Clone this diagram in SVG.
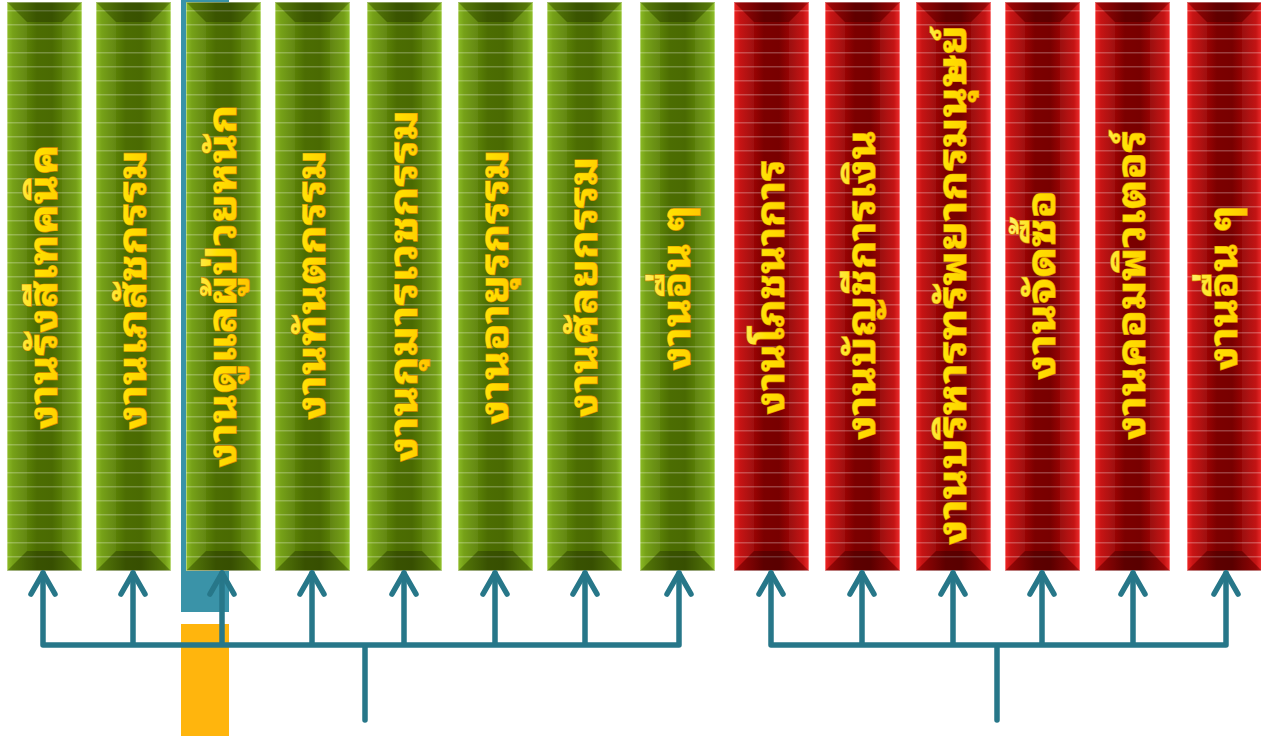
<svg xmlns="http://www.w3.org/2000/svg" width="1261" height="744" viewBox="0 0 1261 744">
  <style>
    .lbl { font-family: "Noto Sans Thai Looped", "Noto Serif Thai", "Loma", "Garuda", "Norasi", "Noto Sans Thai", "Noto Sans", sans-serif; font-weight: bold; font-size: 40px; fill: url(#gold); stroke: #d98a00; stroke-width: 1.2; paint-order: stroke; text-anchor: middle; }
    .wire { fill: none; stroke: #277789; stroke-width: 5.5; stroke-linecap: round; stroke-linejoin: round; }
  </style>
  <defs>
    <linearGradient id="gold" x1="0" y1="0" x2="0" y2="1">
      <stop offset="0" stop-color="#fff27a"/>
      <stop offset="0.5" stop-color="#ffe000"/>
      <stop offset="1" stop-color="#ffc400"/>
    </linearGradient>
    <linearGradient id="greenBody" x1="0" y1="0" x2="1" y2="0">
      <stop offset="0" stop-color="#86b81a"/>
      <stop offset="0.08" stop-color="#6f9c0c"/>
      <stop offset="0.4" stop-color="#4c6d02"/>
      <stop offset="0.6" stop-color="#4a6a02"/>
      <stop offset="0.92" stop-color="#6e9a0c"/>
      <stop offset="1" stop-color="#8cc020"/>
    </linearGradient>
    <linearGradient id="redBody" x1="0" y1="0" x2="1" y2="0">
      <stop offset="0" stop-color="#f01818"/>
      <stop offset="0.08" stop-color="#c40808"/>
      <stop offset="0.4" stop-color="#7c0000"/>
      <stop offset="0.6" stop-color="#780000"/>
      <stop offset="0.92" stop-color="#c00808"/>
      <stop offset="1" stop-color="#f02020"/>
    </linearGradient>
    <pattern id="stripes" width="75" height="14" patternUnits="userSpaceOnUse" y="2">
      <rect x="0" y="6" width="75" height="1.5" fill="#ffffff" fill-opacity="0.25"/>
    </pattern>
    <!-- bevelled panel, 75 x 569 -->
    <symbol id="barShape" viewBox="0 0 75 569" overflow="visible">
      <rect x="0" y="0" width="75" height="569" fill="url(#stripes)"/>
      <path d="M0 0 H75 L55 20 H20 Z" fill="#000" fill-opacity="0.22"/>
      <path d="M0 569 H75 L55 549 H20 Z" fill="#000" fill-opacity="0.25"/>
      <path d="M0 0 L20 20 V549 L0 569 Z" fill="#fff" fill-opacity="0.05"/>
      <path d="M75 0 L55 20 V549 L75 569 Z" fill="#fff" fill-opacity="0.05"/>
      <rect x="0.5" y="0.5" width="74" height="568" fill="none" stroke="#fff" stroke-opacity="0.35" stroke-width="1"/>
    </symbol>
    <symbol id="greenBar" viewBox="0 0 75 569" overflow="visible">
      <rect width="75" height="569" fill="url(#greenBody)"/>
      <use href="#barShape" width="75" height="569"/>
    </symbol>
    <symbol id="redBar" viewBox="0 0 75 569" overflow="visible">
      <rect width="75" height="569" fill="url(#redBody)"/>
      <use href="#barShape" width="75" height="569"/>
    </symbol>
    <path id="chev" d="M-12 21 L0 0 L12 21" class="wire"/>
  </defs>

  <rect width="1261" height="744" fill="#ffffff"/>

  <!-- highlight blocks -->
  <rect x="181" y="0" width="48" height="612" fill="#3a93a8"/>
  <rect x="181" y="624" width="48" height="112" fill="#ffb50d"/>

  <!-- clinical units -->
  <g id="n1"><use href="#greenBar" x="7" y="2" width="75" height="569"/>
    <text class="lbl" transform="translate(57,287) rotate(-90)" textLength="285" lengthAdjust="spacingAndGlyphs">งานรังสีเทคนิค</text></g>
  <g id="n2"><use href="#greenBar" x="96" y="2" width="75" height="569"/>
    <text class="lbl" transform="translate(146,290) rotate(-90)" textLength="280" lengthAdjust="spacingAndGlyphs">งานเภสัชกรรม</text></g>
  <g id="n3"><use href="#greenBar" x="186" y="2" width="75" height="569"/>
    <text class="lbl" transform="translate(236,286) rotate(-90)" textLength="363" lengthAdjust="spacingAndGlyphs">งานดูแลผู้ป่วยหนัก</text></g>
  <g id="n4"><use href="#greenBar" x="275" y="2" width="75" height="569"/>
    <text class="lbl" transform="translate(325,285) rotate(-90)" textLength="270" lengthAdjust="spacingAndGlyphs">งานทันตกรรม</text></g>
  <g id="n5"><use href="#greenBar" x="367" y="2" width="75" height="569"/>
    <text class="lbl" transform="translate(417,286) rotate(-90)" textLength="352" lengthAdjust="spacingAndGlyphs">งานกุมารเวชกรรม</text></g>
  <g id="n6"><use href="#greenBar" x="458" y="2" width="75" height="569"/>
    <text class="lbl" transform="translate(508,287) rotate(-90)" textLength="275" lengthAdjust="spacingAndGlyphs">งานอายุรกรรม</text></g>
  <g id="n7"><use href="#greenBar" x="547" y="2" width="75" height="569"/>
    <text class="lbl" transform="translate(597,287) rotate(-90)" textLength="261" lengthAdjust="spacingAndGlyphs">งานศัลยกรรม</text></g>
  <g id="n8"><use href="#greenBar" x="640" y="2" width="75" height="569"/>
    <text class="lbl" transform="translate(690,288) rotate(-90)" textLength="165" lengthAdjust="spacingAndGlyphs">งานอื่น ๆ</text></g>

  <!-- support units -->
  <g id="n9"><use href="#redBar" x="734" y="2" width="75" height="569"/>
    <text class="lbl" transform="translate(784,287) rotate(-90)" textLength="255" lengthAdjust="spacingAndGlyphs">งานโภชนาการ</text></g>
  <g id="n10"><use href="#redBar" x="825" y="2" width="75" height="569"/>
    <text class="lbl" transform="translate(875,285) rotate(-90)" textLength="310" lengthAdjust="spacingAndGlyphs">งานบัญชีการเงิน</text></g>
  <g id="n11"><use href="#redBar" x="916" y="2" width="75" height="569"/>
    <text class="lbl" transform="translate(966,285) rotate(-90)" textLength="520" lengthAdjust="spacingAndGlyphs">งานบริหารทรัพยากรมนุษย์</text></g>
  <g id="n12"><use href="#redBar" x="1005" y="2" width="75" height="569"/>
    <text class="lbl" transform="translate(1055,285) rotate(-90)" textLength="190" lengthAdjust="spacingAndGlyphs">งานจัดซื้อ</text></g>
  <g id="n13"><use href="#redBar" x="1095" y="2" width="75" height="569"/>
    <text class="lbl" transform="translate(1145,285) rotate(-90)" textLength="310" lengthAdjust="spacingAndGlyphs">งานคอมพิวเตอร์</text></g>
  <g id="n14"><use href="#redBar" x="1187" y="2" width="75" height="569"/>
    <text class="lbl" transform="translate(1237,288) rotate(-90)" textLength="165" lengthAdjust="spacingAndGlyphs">งานอื่น ๆ</text></g>

  <!-- connectors -->
  <g id="connectors">
    <path class="wire" d="M365 720 V645 M43 573 V645 H679 M133 573 V645 M222 573 V645 M312 573 V645 M404 573 V645 M495 573 V645 M585 573 V645 M679 573 V645"/>
    <path class="wire" d="M997 720 V645 M771 573 V645 H1226 M862 573 V645 M953 573 V645 M1042 573 V645 M1133 573 V645 M1226 573 V645"/>
    <use href="#chev" x="43" y="573"/>
    <use href="#chev" x="133" y="573"/>
    <use href="#chev" x="222" y="573"/>
    <use href="#chev" x="312" y="573"/>
    <use href="#chev" x="404" y="573"/>
    <use href="#chev" x="495" y="573"/>
    <use href="#chev" x="585" y="573"/>
    <use href="#chev" x="679" y="573"/>
    <use href="#chev" x="771" y="573"/>
    <use href="#chev" x="862" y="573"/>
    <use href="#chev" x="953" y="573"/>
    <use href="#chev" x="1042" y="573"/>
    <use href="#chev" x="1133" y="573"/>
    <use href="#chev" x="1226" y="573"/>
  </g>
</svg>
